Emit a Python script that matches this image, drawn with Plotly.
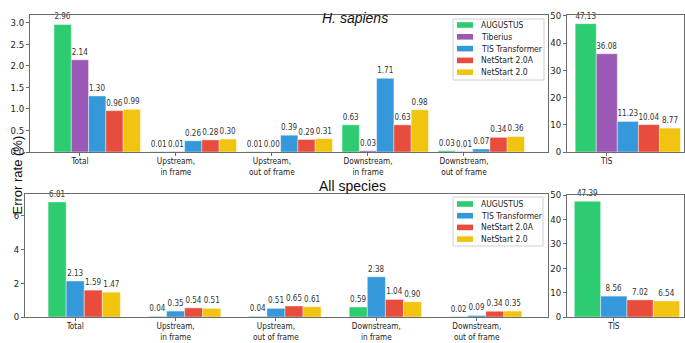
import plotly.graph_objects as go

# ---------------- data ----------------
categories = ["Total", "Upstream,<br>in frame", "Upstream,<br>out of frame",
              "Downstream,<br>in frame", "Downstream,<br>out of frame"]
tis_category = ["TIS"]

hs_models = ["AUGUSTUS", "Tiberius", "TIS Transformer", "NetStart 2.0A", "NetStart 2.0"]
hs_augustus = [2.96, 0.01, 0.01, 0.63, 0.03]
hs_tiberius = [2.14, 0.01, 0.00, 0.03, 0.01]
hs_tistrans = [1.30, 0.26, 0.39, 1.71, 0.07]
hs_netstart_a = [0.96, 0.28, 0.29, 0.63, 0.34]
hs_netstart = [0.99, 0.30, 0.31, 0.98, 0.36]
hs_tis = [47.13, 36.08, 11.23, 10.04, 8.77]

all_models = ["AUGUSTUS", "TIS Transformer", "NetStart 2.0A", "NetStart 2.0"]
all_augustus = [6.81, 0.04, 0.04, 0.59, 0.02]
all_tistrans = [2.13, 0.35, 0.51, 2.38, 0.09]
all_netstart_a = [1.59, 0.54, 0.65, 1.04, 0.34]
all_netstart = [1.47, 0.51, 0.61, 0.90, 0.35]
all_tis = [47.39, 8.56, 7.02, 6.54]

colors = {"AUGUSTUS": "#2ecc71", "Tiberius": "#9b59b6", "TIS Transformer": "#3498db",
          "NetStart 2.0A": "#e74c3c", "NetStart 2.0": "#f1c40f"}

W, H = 685, 343
BW = 0.18
FAM = "DejaVu Sans Condensed, DejaVu Sans"
TICKFONT = dict(family=FAM, size=9.5, color="#222")
XTICKFONT = dict(family=FAM, size=8.2, color="#222")
LBLFONT = dict(family=FAM, size=8, color="#333")
AXCOL = "#6b6b6b"

fig = go.Figure()


def add_bars(series, models, xa, ya):
    for k, (name, vals) in enumerate(zip(models, series)):
        fig.add_trace(go.Bar(
            x=list(range(len(vals))), y=vals, name=name,
            width=BW, offset=(k - 1) * BW - BW / 2,
            marker=dict(color=colors[name], line=dict(color="rgba(255,255,255,0.7)", width=0.6)),
            text=vals, texttemplate="%{y:.2f}", textposition="outside",
            textfont=LBLFONT, constraintext="none", cliponaxis=False,
            xaxis=xa, yaxis=ya, showlegend=False,
        ))


add_bars([hs_augustus, hs_tiberius, hs_tistrans, hs_netstart_a, hs_netstart],
         hs_models, "x", "y")
add_bars([[v] for v in hs_tis], hs_models, "x2", "y2")
add_bars([all_augustus, all_tistrans, all_netstart_a, all_netstart],
         all_models, "x3", "y3")
add_bars([[v] for v in all_tis], all_models, "x4", "y4")


def px_x(a, b):
    return [a / W, b / W]


def px_y(top, bottom):
    return [1 - bottom / H, 1 - top / H]


axis_common = dict(showline=True, mirror=True, linecolor=AXCOL, linewidth=1,
                   ticks="outside", ticklen=3, tickcolor=AXCOL, showgrid=False,
                   zeroline=False, automargin=False)
xaxis_common = dict(axis_common, tickfont=XTICKFONT, ticklabelstandoff=-2)
yaxis_common = dict(axis_common, tickfont=TICKFONT)

# ---- manual legends (matplotlib-style wide patches, tight spacing) ----
shapes = []
annotations = []


def add_legend(models, box, item_y0, step):
    x0, y0, x1, y1 = box
    shapes.append(dict(type="rect", xref="paper", yref="paper",
                       x0=x0 / W, x1=x1 / W, y0=1 - y1 / H, y1=1 - y0 / H,
                       line=dict(color="#d0d0d0", width=1), fillcolor="white", layer="above"))
    for i, name in enumerate(models):
        yc = item_y0 + i * step
        shapes.append(dict(type="rect", xref="paper", yref="paper",
                           x0=457 / W, x1=473 / W, y0=1 - (yc + 2.8) / H, y1=1 - (yc - 2.8) / H,
                           line=dict(width=0), fillcolor=colors[name], layer="above"))
        annotations.append(dict(text=name, x=479 / W, y=1 - yc / H, xref="paper", yref="paper",
                                xanchor="left", yanchor="middle", showarrow=False,
                                font=dict(family=FAM, size=8.5, color="#222")))


add_legend(hs_models, (453, 19, 544, 80), 25, 11.8)
add_legend(all_models, (453, 197, 543, 246), 204, 11.7)

annotations += [
    dict(text="<i>H. sapiens</i>", x=355 / W, y=1 - 8 / H, xref="paper", yref="paper",
         showarrow=False, font=dict(family="Liberation Sans", size=14, color="#111")),
    dict(text="All species", x=352 / W, y=1 - 186 / H, xref="paper", yref="paper",
         showarrow=False, font=dict(family="Liberation Sans", size=14, color="#111")),
    dict(text="Error rate (%)", x=7 / W, y=1 - 175 / H, xref="paper", yref="paper",
         textangle=-90, showarrow=False,
         font=dict(family="Liberation Sans", size=13, color="#111")),
]

fig.update_layout(
    width=W, height=H, margin=dict(l=0, r=0, t=0, b=0),
    plot_bgcolor="white", paper_bgcolor="white", barmode="overlay", showlegend=False,
    xaxis=dict(domain=px_x(30, 548), anchor="y", range=[-0.52, 4.875],
               tickvals=list(range(len(categories))), ticktext=categories, **xaxis_common),
    yaxis=dict(domain=px_y(15, 152), anchor="x", range=[0, 3.18], dtick=0.5,
               tickformat=".1f", **yaxis_common),
    xaxis2=dict(domain=px_x(567, 684), anchor="y2", range=[-0.34, 0.66],
                tickvals=[0], ticktext=tis_category, **xaxis_common),
    yaxis2=dict(domain=px_y(15, 152), anchor="x2", range=[0, 50.3], dtick=10, **yaxis_common),
    xaxis3=dict(domain=px_x(25, 548), anchor="y3", range=[-0.5, 4.71],
                tickvals=list(range(len(categories))), ticktext=categories, **xaxis_common),
    yaxis3=dict(domain=px_y(194, 317), anchor="x3", range=[0, 7.28], dtick=2, **yaxis_common),
    xaxis4=dict(domain=px_x(567, 684), anchor="y4", range=[-0.32, 0.48],
                tickvals=[0], ticktext=tis_category, **xaxis_common),
    yaxis4=dict(domain=px_y(195, 317), anchor="x4", range=[0, 50], dtick=10, **yaxis_common),
    shapes=shapes,
    annotations=annotations,
)

fig.write_html("out.html", config={"displayModeBar": False},
               post_script="document.body.style.margin='0';document.body.style.padding='0';"
                           "document.body.style.overflow='hidden';")
